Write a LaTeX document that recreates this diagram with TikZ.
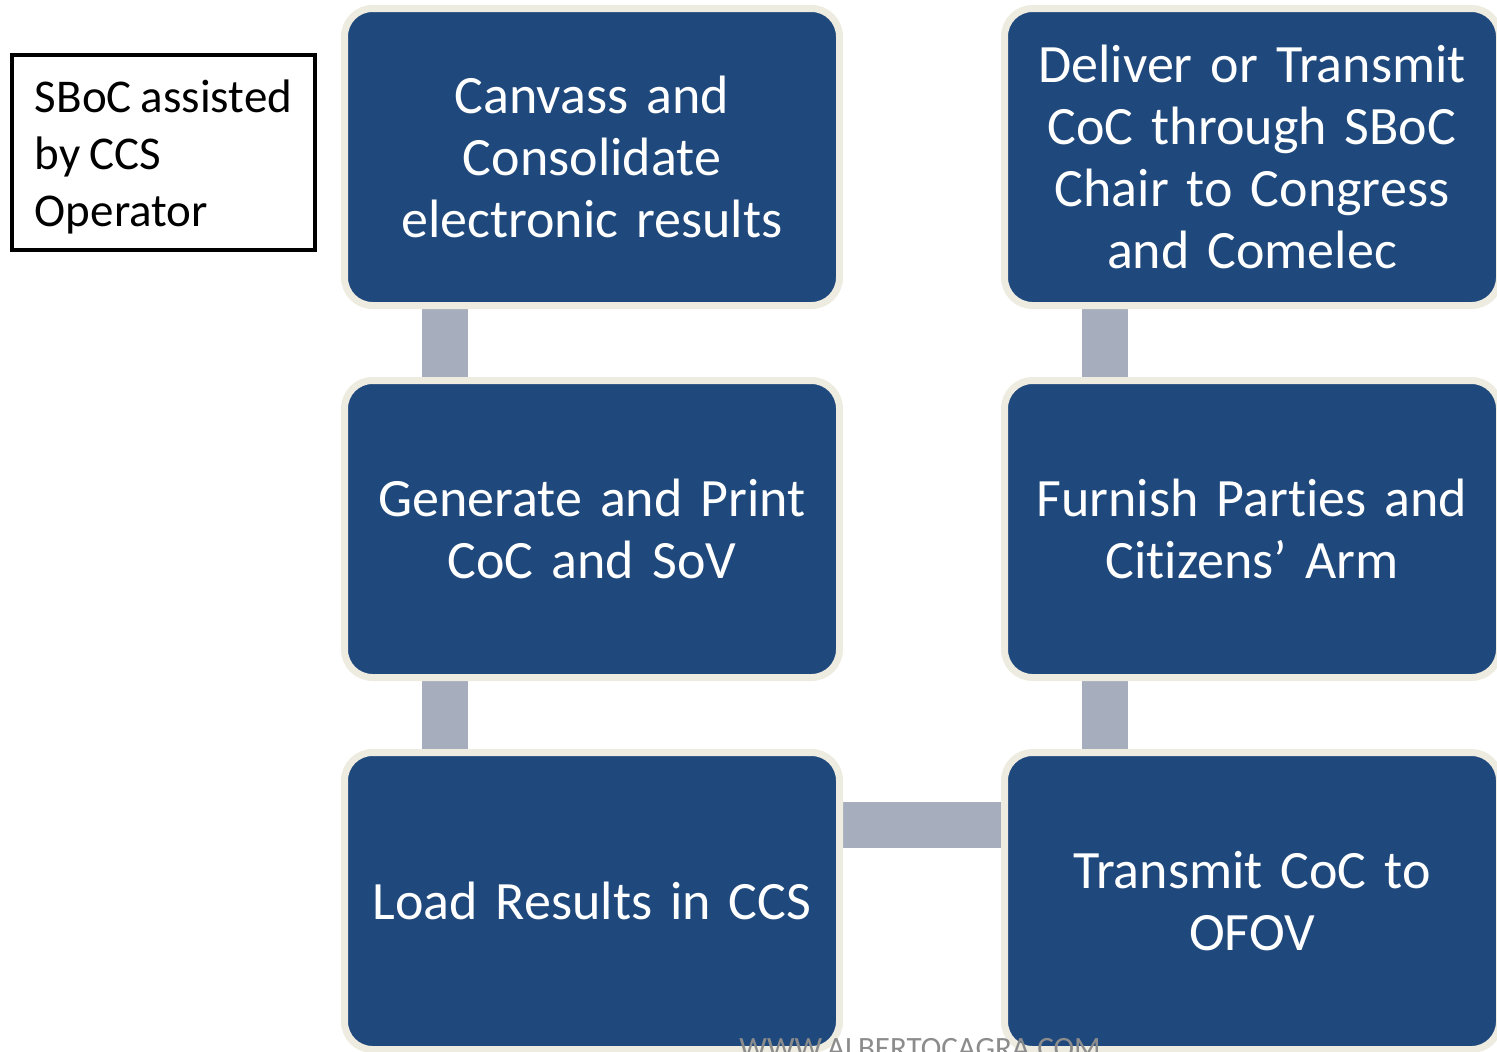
\documentclass[tikz,border=0pt]{standalone}
\usepackage{fontspec}
\setmainfont{Carlito}[WordSpace=0.85,Ligatures={NoCommon}]
\usetikzlibrary{positioning,backgrounds}
\definecolor{stepblue}{HTML}{1F497D}
\definecolor{stepedge}{HTML}{EEECE1}
\definecolor{linkgray}{HTML}{A6AEBE}
\definecolor{markgray}{HTML}{8C8C8C}

\begin{document}
\begin{tikzpicture}[x=0.5pt,y=-0.5pt,
	stepbox/.style={draw=stepedge, line width=3.5pt, fill=stepblue, rounded corners=14pt,
		minimum width=247.5pt, minimum height=148.5pt, text width=235pt, inner sep=0pt,
		align=center, text=white, font=\fontsize{27}{31}\selectfont},
	labelbox/.style={draw=black, line width=2pt, minimum width=151.5pt, minimum height=97.5pt,
		font=\fontsize{23.5}{28.5}\selectfont},
	link/.style={draw=linkgray, line width=23pt},
	node distance=34pt and 79pt]
\useasboundingbox (0,0) rectangle (1497,1051);

				\begin{scope}
	\node[stepbox] (canvass) at (592,157) {Canvass and\\Consolidate\\electronic results};
	\node[stepbox, below=of canvass] (generate) {Generate and Print\\CoC and SoV};
	\node[stepbox, below=of generate] (load) {Load Results in CCS};
				\end{scope}

				\begin{scope}
	\node[stepbox, right=of load] (transmit) {Transmit CoC to\\OFOV};
	\node[stepbox, above=of transmit] (furnish) {Furnish Parties and\\Cit\kern0pt izens’ Arm};
	\node[stepbox, above=of furnish] (deliver) {Deliver or Transmit\\CoC through SBoC\\Chair to Congress\\and Comelec};
				\end{scope}

				\begin{scope}[on background layer]
	\draw[link] ([xshift=-73.75pt]canvass.south) -- ([xshift=-73.75pt]generate.north);
	\draw[link] ([xshift=-73.75pt]generate.south) -- ([xshift=-73.75pt]load.north);
	\draw[link] ([yshift=38pt]load.east) -- ([yshift=38pt]transmit.west);
	\draw[link] ([xshift=-73.75pt]transmit.north) -- ([xshift=-73.75pt]furnish.south);
	\draw[link] ([xshift=-73.75pt]furnish.north) -- ([xshift=-73.75pt]deliver.south);
				\end{scope}

	\node[labelbox] (sboc) at (163.5,152.5) {\raisebox{-3pt}[\height][\depth]{\begin{tabular}{@{}l@{}}SBoC assisted\\by CCS\\Operator\end{tabular}}};
	\node[anchor=base, inner sep=0pt, text=markgray, font=\fontsize{15.5}{18}\selectfont] (mark) at (920,1058) {WWW.ALBERTOCAGRA.COM};

\end{tikzpicture}
\end{document}
